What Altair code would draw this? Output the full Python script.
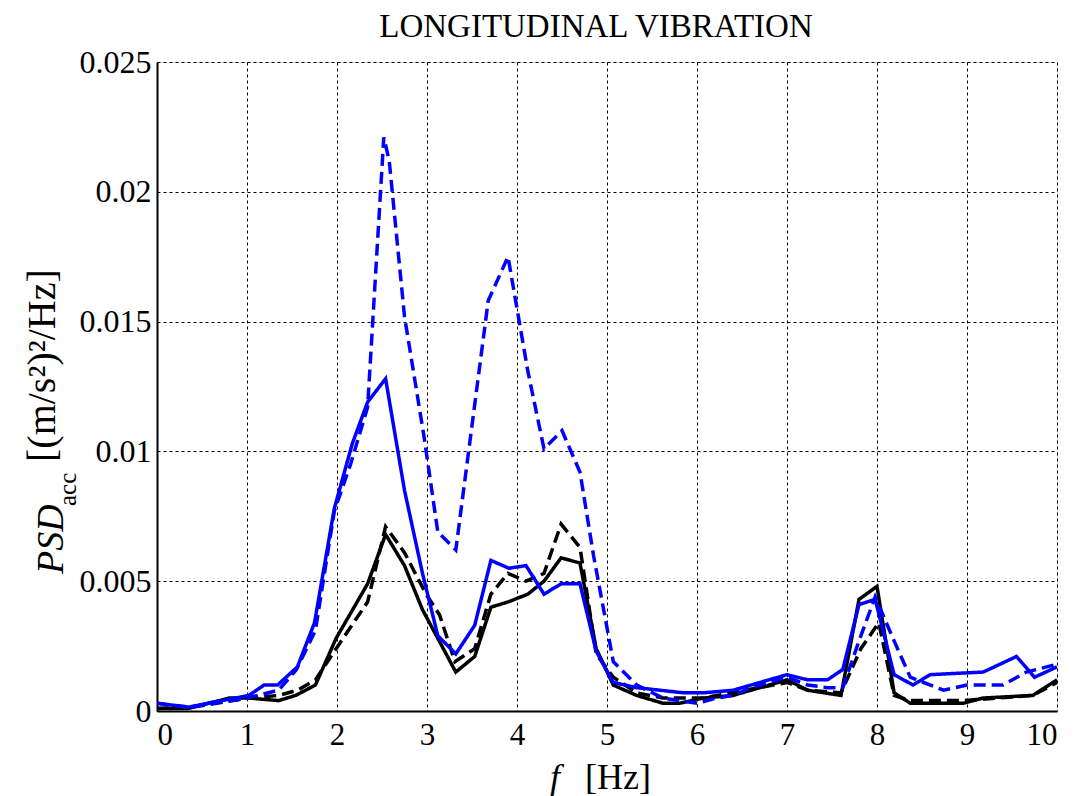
import altair as alt
import pandas as pd

# ---- data ----
bd_f = [0, 0.2, 0.4, 1.0, 1.35, 1.55, 1.76, 1.97, 2.15, 2.34, 2.52, 2.58, 2.75, 2.97, 3.12, 3.32,
        3.68, 3.9, 4.12, 4.3, 4.5, 4.7, 4.85, 5.07, 5.33, 5.62, 6.0, 6.22, 6.4, 6.6, 7.0, 7.23, 7.45,
        7.62, 7.8, 7.98, 8.19, 8.37, 8.74, 9.0, 9.4, 9.66, 10.0]
bd_v = [0.0003, 0.0002, 0.00015, 0.0005, 0.0008, 0.0016, 0.0031, 0.0077, 0.0095, 0.0117, 0.0221, 0.0212,
        0.0152, 0.0105, 0.0069, 0.0062, 0.0158, 0.0175, 0.0131, 0.0101, 0.0108, 0.0092, 0.006, 0.0019,
        0.001, 0.0005, 0.0003, 0.0005, 0.0006, 0.0009, 0.0013, 0.001, 0.0009, 0.0009, 0.0027, 0.0044,
        0.0027, 0.0013, 0.0008, 0.001, 0.001, 0.0015, 0.0018]

bs_f = [0, 0.35, 1.02, 1.19, 1.34, 1.56, 1.75, 1.97, 2.17, 2.34, 2.54, 2.75, 2.95, 3.12, 3.32, 3.53,
        3.71, 3.91, 4.1, 4.3, 4.49, 4.7, 4.88, 5.07, 5.33, 5.85, 6.07, 6.4, 7.0, 7.23, 7.45, 7.62, 7.8,
        7.98, 8.19, 8.4, 8.59, 9.18, 9.55, 9.75, 10.0]
bs_v = [0.0003, 0.00015, 0.0006, 0.001, 0.001, 0.0017, 0.0034, 0.0078, 0.0103, 0.0119, 0.0128, 0.0085,
        0.0053, 0.0029, 0.0022, 0.0033, 0.0058, 0.0055, 0.0056, 0.0045, 0.0049, 0.0049, 0.0023, 0.0011,
        0.0009, 0.0007, 0.0007, 0.0008, 0.0014, 0.0012, 0.0012, 0.0016, 0.0041, 0.0043, 0.0014, 0.001,
        0.0014, 0.0015, 0.0021, 0.0013, 0.0017]

ks_f = [0, 0.35, 0.8, 1.02, 1.35, 1.54, 1.76, 1.99, 2.34, 2.54, 2.75, 2.95, 3.12, 3.32, 3.53, 3.71,
        3.9, 4.12, 4.3, 4.49, 4.7, 4.88, 5.07, 5.33, 5.62, 5.81, 6.07, 6.4, 7.0, 7.23, 7.6, 7.8, 8.0,
        8.19, 8.37, 8.96, 9.18, 9.73, 10.0]
ks_v = [0.0001, 0.0001, 0.0005, 0.0005, 0.0004, 0.0006, 0.001, 0.0028, 0.0049, 0.0068, 0.0056, 0.0039,
        0.0028, 0.0015, 0.0021, 0.004, 0.0042, 0.0045, 0.005, 0.0059, 0.0057, 0.0024, 0.001, 0.0006,
        0.0003, 0.0003, 0.0005, 0.0006, 0.0012, 0.0008, 0.0006, 0.0043, 0.0048, 0.0007, 0.0003, 0.0003,
        0.0005, 0.0006, 0.0012]

kd_f = [0, 0.35, 1.02, 1.35, 1.56, 1.76, 1.99, 2.34, 2.54, 2.75, 2.99, 3.14, 3.31, 3.53, 3.71, 3.9,
        4.1, 4.3, 4.49, 4.7, 4.88, 5.07, 5.33, 5.62, 6.07, 7.0, 7.23, 7.6, 7.82, 8.02, 8.19, 8.37, 8.96,
        9.73, 10.0]
kd_v = [0.0001, 0.00015, 0.0005, 0.0006, 0.0008, 0.0012, 0.0024, 0.0042, 0.0071, 0.0061, 0.0045, 0.0037,
        0.0019, 0.0024, 0.0045, 0.0053, 0.005, 0.0053, 0.0072, 0.0063, 0.0022, 0.0013, 0.0007, 0.0005,
        0.0005, 0.0011, 0.0008, 0.0007, 0.0024, 0.0034, 0.0006, 0.0004, 0.0004, 0.0006, 0.0011]

x_ticks = list(range(0, 11))
y_ticks = [0, 0.005, 0.01, 0.015, 0.02, 0.025]
series_names = ["black dashed", "black solid", "blue dashed", "blue solid"]

rows = []
for name, fs, vs in [("black dashed", kd_f, kd_v), ("black solid", ks_f, ks_v),
                     ("blue dashed", bd_f, bd_v), ("blue solid", bs_f, bs_v)]:
    for i, (f, v) in enumerate(zip(fs, vs)):
        rows.append({"series": name, "f": f, "psd": v, "i": i})
df = pd.DataFrame(rows)

FONT = "Liberation Serif"
W, H = 900, 649

lines = alt.Chart(df).mark_line(strokeWidth=3.5, clip=True, strokeCap="butt").encode(
    x=alt.X("f:Q", scale=alt.Scale(domain=[0, 10], nice=False, zero=False),
            axis=alt.Axis(values=x_ticks, title=None, grid=True, ticks=False,
                          labelFont=FONT, labelFontSize=31, labelColor="black", labelPadding=9,
                          domainColor="black", domainWidth=2,
                          gridColor="black", gridOpacity=1, gridDash=[3, 3], gridWidth=1)),
    y=alt.Y("psd:Q", scale=alt.Scale(domain=[0, 0.025], nice=False),
            axis=alt.Axis(values=y_ticks, format="~g", title=None, grid=True, ticks=False,
                          labelFont=FONT, labelFontSize=32, labelColor="black", labelPadding=6,
                          domainColor="black", domainWidth=2,
                          gridColor="black", gridOpacity=1, gridDash=[3, 3], gridWidth=1)),
    color=alt.Color("series:N", scale=alt.Scale(domain=series_names,
                                                 range=["black", "black", "#0000ff", "#0000ff"]),
                    legend=None),
    strokeDash=alt.StrokeDash("series:N", scale=alt.Scale(domain=series_names,
                                                          range=[[12, 6], [1, 0], [12, 6], [1, 0]]),
                              legend=None),
    order="i:Q",
)

def label(text, x, y, size, style="normal", angle=0, align="left"):
    return alt.Chart(pd.DataFrame({"t": [text]})).mark_text(
        font=FONT, fontSize=size, fontStyle=style, angle=angle, align=align,
        baseline="alphabetic", color="black").encode(
        text="t:N", x=alt.value(x), y=alt.value(y))

title = label("LONGITUDINAL VIBRATION", 439, -25, 33, align="center")
xt1 = label("f", 393, 727, 36, style="italic")
xt2 = label("[Hz]", 428, 727, 36)
yt1 = label("PSD", -94, 512, 38, style="italic", angle=270)
yt2 = label("acc", -81, 444, 25, angle=270)
yt3 = label("[(m/s²)²/Hz]", -102, 400, 40, angle=270)

chart = alt.layer(lines, title, xt1, xt2, yt1, yt2, yt3).properties(
    width=W, height=H,
    autosize=alt.AutoSizeParams(type="none"),
    padding={"left": 157, "top": 62, "right": 19, "bottom": 85},
).configure_view(stroke="black", strokeWidth=2).configure(background="white")

chart.save("out.html", embed_options={"renderer": "svg", "actions": False})
